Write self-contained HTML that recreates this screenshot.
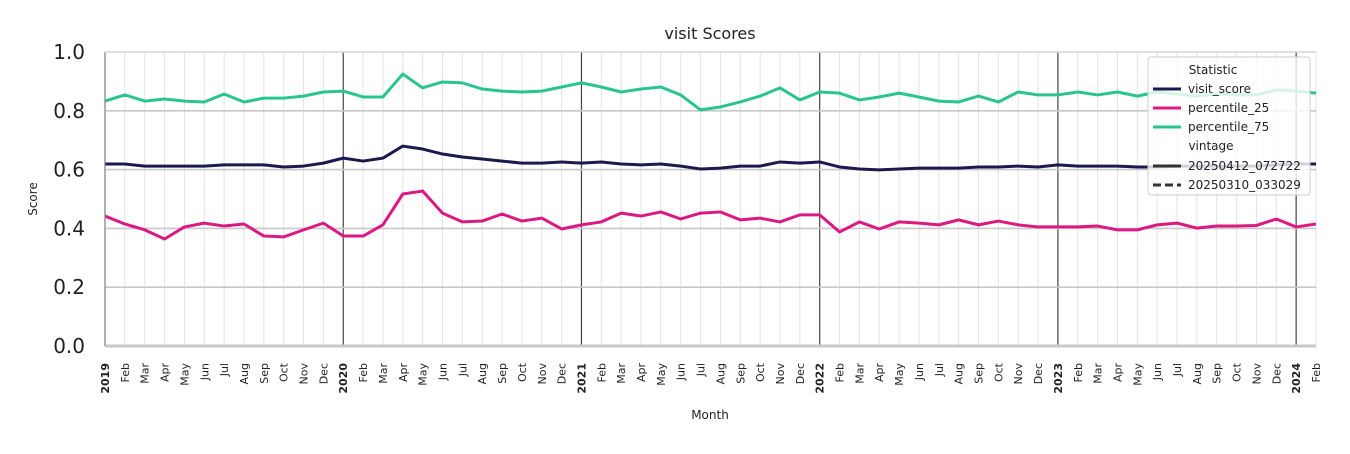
<!DOCTYPE html>
<html><head><meta charset="utf-8"><style>
body{margin:0;background:#fff;font-family:"DejaVu Sans","Liberation Sans",sans-serif}
</style></head><body>
<svg id="chart" width="1350" height="450" xmlns="http://www.w3.org/2000/svg" font-family="DejaVu Sans, Liberation Sans, sans-serif">
<rect width="1350" height="450" fill="#fff"/>
<g id="grid"></g>
<g id="series"></g>
<g id="axes"></g>
<text x="710" y="39" font-size="16" text-anchor="middle" fill="#222">visit Scores</text>
<text transform="translate(37,199) rotate(-90)" font-size="12" text-anchor="middle" fill="#222">Score</text>
<text x="710" y="419" font-size="12" text-anchor="middle" fill="#222">Month</text>
<g>
<rect x="1148" y="57" width="162" height="138" rx="3" fill="#fff" fill-opacity="0.8" stroke="#ccc"/>
<text x="1213" y="74" font-size="12" text-anchor="middle" fill="#222">Statistic</text>
<line x1="1153" y1="89" x2="1181" y2="89" stroke="#1b1a4f" stroke-width="3"/>
<text x="1188" y="93" font-size="12" fill="#222">visit_score</text>
<line x1="1153" y1="108" x2="1181" y2="108" stroke="#dc1982" stroke-width="3"/>
<text x="1188" y="112" font-size="12" fill="#222">percentile_25</text>
<line x1="1153" y1="127" x2="1181" y2="127" stroke="#2ac58e" stroke-width="3"/>
<text x="1188" y="131" font-size="12" fill="#222">percentile_75</text>
<text x="1211" y="150" font-size="12" text-anchor="middle" fill="#222">vintage</text>
<line x1="1153" y1="166" x2="1181" y2="166" stroke="#333" stroke-width="3"/>
<text x="1188" y="170" font-size="12" fill="#222">20250412_072722</text>
<line x1="1153" y1="185" x2="1181" y2="185" stroke="#333" stroke-width="3" stroke-dasharray="8,4"/>
<text x="1188" y="189" font-size="12" fill="#222">20250310_033029</text>
</g>
</svg>
<script>
const monthNames=["Jan","Feb","Mar","Apr","May","Jun","Jul","Aug","Sep","Oct","Nov","Dec"];
const startYear=2019;
const yTicks=[0,0.2,0.4,0.6,0.8,1.0];
const visitScore=[0.619,0.619,0.612,0.612,0.612,0.612,0.616,0.616,0.616,0.609,0.612,0.622,
0.639,0.629,0.639,0.680,0.670,0.653,0.643,0.636,0.629,0.622,0.622,0.626,
0.622,0.626,0.619,0.616,0.619,0.612,0.602,0.605,0.612,0.612,0.626,0.622,
0.626,0.609,0.602,0.599,0.602,0.605,0.605,0.605,0.609,0.609,0.612,0.609,
0.616,0.612,0.612,0.612,0.609,0.609,0.612,0.612,0.612,0.612,0.612,0.616,0.619,0.619];
const p25=[0.442,0.415,0.395,0.364,0.405,0.418,0.408,0.415,0.374,0.371,0.395,0.418,
0.374,0.374,0.412,0.517,0.527,0.452,0.422,0.425,0.449,0.425,0.435,0.398,
0.412,0.422,0.452,0.442,0.456,0.432,0.452,0.456,0.429,0.435,0.422,0.446,
0.446,0.388,0.422,0.398,0.422,0.418,0.412,0.429,0.412,0.425,0.412,0.405,
0.405,0.405,0.408,0.395,0.395,0.412,0.418,0.401,0.408,0.408,0.410,0.432,0.405,0.415];
const p75=[0.833,0.854,0.833,0.840,0.833,0.830,0.857,0.830,0.843,0.843,0.850,0.864,
0.867,0.847,0.847,0.925,0.878,0.898,0.895,0.874,0.867,0.864,0.867,0.881,
0.895,0.881,0.864,0.874,0.881,0.854,0.803,0.813,0.830,0.850,0.878,0.837,
0.864,0.860,0.837,0.847,0.860,0.847,0.833,0.830,0.850,0.830,0.864,0.854,
0.854,0.864,0.854,0.864,0.850,0.864,0.857,0.850,0.857,0.854,0.854,0.871,0.867,0.860];
const NS="http://www.w3.org/2000/svg";
const X0=105,X1=1316,Y0=346,Y1=52;
const n=visitScore.length;
function xs(i){return X0+i*(X1-X0)/(n-1);}
function ys(v){return Y0-(v)*(Y0-Y1);}
function mk(tag,attrs,parent){const e=document.createElementNS(NS,tag);for(const k in attrs)e.setAttribute(k,attrs[k]);parent.appendChild(e);return e;}
const grid=document.getElementById('grid'),axes=document.getElementById('axes'),ser=document.getElementById('series');
for(let i=0;i<n;i++){
  const yr=i%12===0;
  const l=mk('line',{x1:xs(i),x2:xs(i),y1:Y1,y2:Y0,stroke:yr?'#444':'#e2e2e2','stroke-width':yr?1.2:1},grid);
  
  
  const lab=yr?String(startYear+i/12):monthNames[i%12];
  const t=mk('text',{transform:`translate(${xs(i)+4},363) rotate(-90)`,'font-size':11,'text-anchor':'end',fill:'#222','font-weight':yr?'bold':'normal'},axes);
  t.textContent=lab;
  
  
}
yTicks.forEach(v=>{
  const l=mk('line',{x1:X0,x2:X1,y1:ys(v),y2:ys(v),stroke:'#c8c8c8','stroke-width':v===0?3:1.6},grid);
  
  
  const t=mk('text',{x:85,y:ys(v)+7,'font-size':20,'text-anchor':'end',fill:'#222'},axes);
  t.textContent=v.toFixed(1);
  
  
});
const sp=mk('line',{x1:X0,x2:X0,y1:Y1,y2:Y0,stroke:'#888','stroke-width':1},axes);


const sp2=mk('line',{x1:X0,x2:X1,y1:Y1,y2:Y1,stroke:'#ddd','stroke-width':1},axes);


function line(arr,color,name){
  const p=mk('polyline',{points:arr.map((v,i)=>xs(i)+','+ys(v)).join(' '),fill:'none',stroke:color,'stroke-width':3,'stroke-linejoin':'round'},ser);
  
  
}
line(p75,'#2ac58e','percentile-75-line');
line(visitScore,'#1b1a4f','visit-score-line');
line(p25,'#dc1982','percentile-25-line');
</script>
</body></html>
